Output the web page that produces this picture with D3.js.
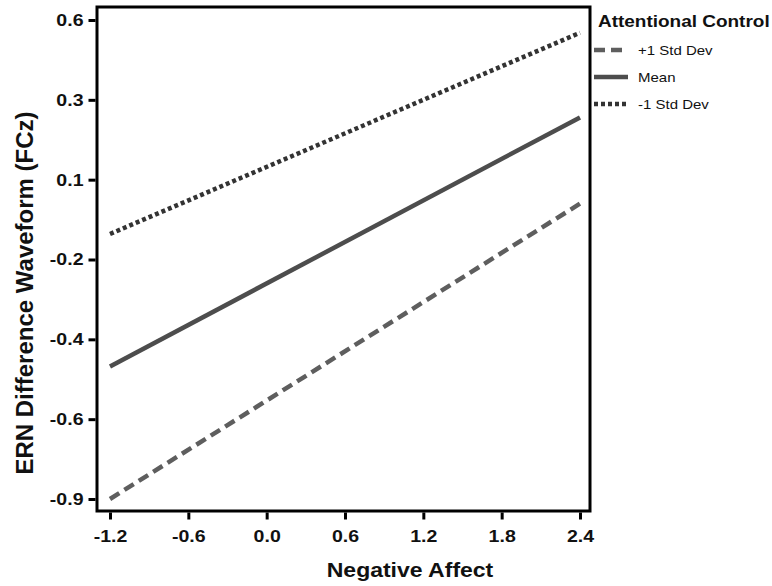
<!DOCTYPE html>
<html>
<head>
<meta charset="utf-8">
<script src="https://cdn.jsdelivr.net/npm/d3@7"></script>
<style>
  html, body { margin: 0; padding: 0; background: #ffffff; }
  text { font-family: "Liberation Sans", Arial, sans-serif; fill: #111; }
</style>
</head>
<body>
<svg id="chart" width="772" height="586"></svg>
<script>
// ---- data ----
const xValues = [-1.2, 2.4];
const seriesNames = ["+1 Std Dev", "Mean", "-1 Std Dev"];
const plusOneSD = [-0.90, 0.025];
const meanValues = [-0.485, 0.295];
const minusOneSD = [-0.07, 0.56];
const xTicks = [-1.2, -0.6, 0.0, 0.6, 1.2, 1.8, 2.4];
const xTickLabels = ["-1.2", "-0.6", "0.0", "0.6", "1.2", "1.8", "2.4"];
const yTicks = [0.6, 0.35, 0.1, -0.15, -0.4, -0.65, -0.9];
const yTickLabels = ["0.6", "0.3", "0.1", "-0.2", "-0.4", "-0.6", "-0.9"];
const legendTitle = "Attentional Control";
const xTitle = "Negative Affect";
const yTitle = "ERN Difference Waveform (FCz)";

// ---- layout ----
const frame = { left: 97, right: 590, top: 7, bottom: 511 };
const svg = d3.select("#chart");
const FONT = "Liberation Sans, Arial, sans-serif";

const x = d3.scaleLinear().domain([-1.2, 2.4]).range([110, 580]);
const y = d3.scaleLinear().domain([-0.9, 0.6]).range([499, 20]);

const styles = [
  { color: "#5e5e5e", dash: "11,6" },
  { color: "#4d4d4d", dash: null },
  { color: "#333333", dash: "4,3" }
];
const seriesValues = [plusOneSD, meanValues, minusOneSD];

// lines
const line = d3.line().x(d => x(d[0])).y(d => y(d[1]));
seriesValues.forEach((vals, i) => {
  const pts = xValues.map((xv, j) => [xv, vals[j]]);
  svg.append("path")
    .datum(pts)
    .attr("d", line)
    .attr("fill", "none")
    .attr("stroke", styles[i].color)
    .attr("stroke-width", 4.5)
    .attr("stroke-dasharray", styles[i].dash);
});

// frame
svg.append("rect")
  .attr("x", frame.left).attr("y", frame.top)
  .attr("width", frame.right - frame.left)
  .attr("height", frame.bottom - frame.top)
  .attr("fill", "none").attr("stroke", "#000").attr("stroke-width", 3);

const SX = 1.15; // horizontal widening of the reference's lettering

// x axis
const xAxis = d3.axisBottom(x).tickValues(xTicks)
  .tickFormat((d, i) => xTickLabels[i]).tickSize(7).tickPadding(10);
const gx = svg.append("g").attr("transform", `translate(0,${frame.bottom + 1.5})`).call(xAxis);
gx.select(".domain").remove();
gx.selectAll(".tick line").attr("stroke", "#000").attr("stroke-width", 3);
gx.selectAll(".tick text").attr("font-size", 17).attr("font-weight", "bold")
  .attr("font-family", FONT).attr("fill", "#111")
  .attr("transform", `scale(${SX},1)`);

// y axis
const yAxis = d3.axisLeft(y).tickValues(yTicks)
  .tickFormat((d, i) => yTickLabels[i]).tickSize(7).tickPadding(5);
const gy = svg.append("g").attr("transform", `translate(${frame.left - 1.5},0)`).call(yAxis);
gy.select(".domain").remove();
gy.selectAll(".tick line").attr("stroke", "#000").attr("stroke-width", 3);
gy.selectAll(".tick text").attr("font-size", 17).attr("font-weight", "bold")
  .attr("font-family", FONT).attr("fill", "#111")
  .attr("transform", `translate(-12,0) scale(${SX},1) translate(12,0)`);

// axis titles
svg.append("text")
  .attr("transform", `translate(410,577) scale(1.18,1)`)
  .attr("text-anchor", "middle").attr("font-size", 19.5).attr("font-weight", "bold")
  .text(xTitle);
svg.append("text")
  .attr("transform", `translate(33,293) rotate(-90)`)
  .attr("text-anchor", "middle").attr("font-size", 24).attr("font-weight", "bold")
  .text(yTitle);

// legend
const legend = svg.append("g");
legend.append("text")
  .attr("transform", `translate(598,27) scale(1.15,1)`)
  .attr("font-size", 16.5).attr("font-weight", "bold").text(legendTitle);
const rowY = [50, 77, 104];
seriesNames.forEach((name, i) => {
  legend.append("line")
    .attr("x1", 594).attr("x2", 628).attr("y1", rowY[i]).attr("y2", rowY[i])
    .attr("stroke", styles[i].color).attr("stroke-width", 4.5)
    .attr("stroke-dasharray", styles[i].dash);
  legend.append("text")
    .attr("transform", `translate(638,${rowY[i] + 4.5}) scale(1.2,1)`)
    .attr("font-size", 12.5).text(name);
});
</script>
</body>
</html>
